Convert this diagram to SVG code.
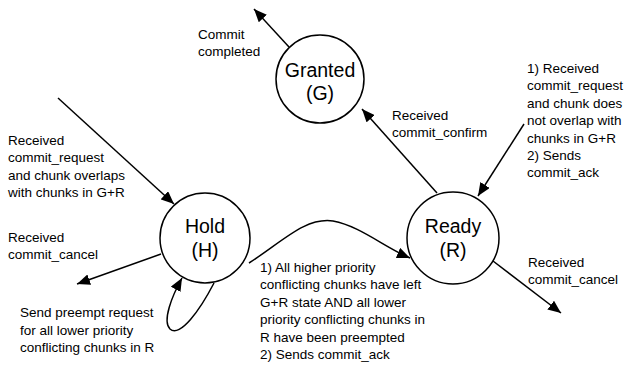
<svg xmlns="http://www.w3.org/2000/svg" width="632" height="365" viewBox="0 0 632 365">
<defs>
<style>
.node circle{fill:#fff;stroke:#000;stroke-width:1.5}
.nl{font-family:"Liberation Sans",Arial,Helvetica,sans-serif;font-size:19.5px;fill:#000;text-anchor:middle}
.lb{font-family:"Liberation Sans",Arial,Helvetica,sans-serif;font-size:13.5px;fill:#000}
.edge{fill:none;stroke:#000;stroke-width:1.5;marker-end:url(#ah)}
</style>
<marker id="ah" markerUnits="userSpaceOnUse" markerWidth="13" markerHeight="11" refX="13" refY="5.5" orient="auto">
<path d="M0,0 L13,5.5 L0,11 z" fill="#000"/>
</marker>
</defs>
<rect width="632" height="365" fill="#fff"/>
<g id="connectors">
<line class="edge" x1="289" y1="47" x2="254" y2="9"/>
<line class="edge" x1="437" y1="193" x2="362" y2="109"/>
<line class="edge" x1="524" y1="124" x2="478" y2="196"/>
<line class="edge" x1="58" y1="98" x2="174" y2="204"/>
<line class="edge" x1="161" y1="254" x2="77" y2="284"/>
<path class="edge" d="M214,283 C200,310 180,338 170,329 C162,321 172,296 182,278"/>
<path class="edge" d="M249,263 C282,242 305,217 333,221 C360,226 384,247 410,258"/>
<line class="edge" x1="493" y1="261" x2="561" y2="313"/>
</g>
<g id="granted" class="node">
<circle cx="320" cy="79" r="44"/>
<text class="nl" x="320" y="77">Granted</text>
<text class="nl" x="320" y="100">(G)</text>
</g>
<g id="hold" class="node">
<circle cx="205" cy="238" r="45"/>
<text class="nl" x="205" y="233">Hold</text>
<text class="nl" x="205" y="257">(H)</text>
</g>
<g id="ready" class="node">
<circle cx="453" cy="238" r="46"/>
<text class="nl" x="453" y="233">Ready</text>
<text class="nl" x="453" y="257">(R)</text>
</g>
<g id="labels">
<text class="lb" x="198" y="39">Commit</text>
<text class="lb" x="198" y="56">completed</text>
<text class="lb" x="392" y="120">Received</text>
<text class="lb" x="392" y="137">commit_confirm</text>
<text class="lb" x="527" y="73">1) Received</text>
<text class="lb" x="527" y="90.4">commit_request</text>
<text class="lb" x="527" y="107.8">and chunk does</text>
<text class="lb" x="527" y="125.2">not overlap with</text>
<text class="lb" x="527" y="142.6">chunks in G+R</text>
<text class="lb" x="527" y="160">2) Sends</text>
<text class="lb" x="527" y="177.4">commit_ack</text>
<text class="lb" x="8" y="145">Received</text>
<text class="lb" x="8" y="162.4">commit_request</text>
<text class="lb" x="8" y="179.8">and chunk overlaps</text>
<text class="lb" x="8" y="197.2">with chunks in G+R</text>
<text class="lb" x="8" y="242">Received</text>
<text class="lb" x="8" y="259">commit_cancel</text>
<text class="lb" x="20" y="317">Send preempt request</text>
<text class="lb" x="20" y="334.5">for all lower priority</text>
<text class="lb" x="20" y="352">conflicting chunks in R</text>
<text class="lb" x="260" y="272">1) All higher priority</text>
<text class="lb" x="260" y="289.4">conflicting chunks have left</text>
<text class="lb" x="260" y="306.8">G+R state AND all lower</text>
<text class="lb" x="260" y="324.2">priority conflicting chunks in</text>
<text class="lb" x="260" y="341.6">R have been preempted</text>
<text class="lb" x="260" y="359">2) Sends commit_ack</text>
<text class="lb" x="528" y="267">Received</text>
<text class="lb" x="528" y="284">commit_cancel</text>
</g>
</svg>
